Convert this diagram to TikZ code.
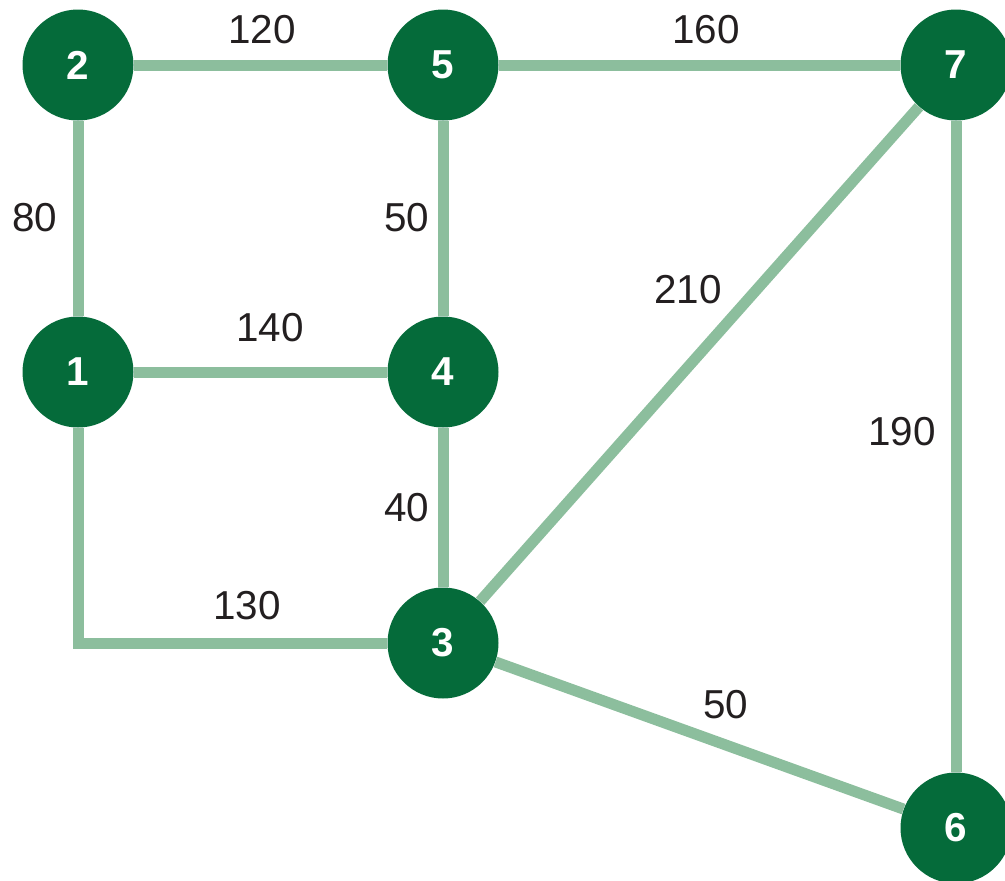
\documentclass[tikz,border=0pt]{standalone}
\usepackage{fontspec}
\setmainfont{Liberation Sans}
\begin{document}
\begin{tikzpicture}[x=0.02cm,y=-0.02cm,
  vert/.style={circle,fill=nodegreen,minimum size=111*0.02cm,inner sep=0pt,text=white,font=\fontsize{23}{25}\selectfont\bfseries},
  edge/.style={draw=edgegreen,line width=11*0.02cm,line join=miter},
  wlabel/.style={text=textdark,font=\fontsize{23}{25}\selectfont,inner sep=0pt}]
\definecolor{nodegreen}{HTML}{056B3A}
\definecolor{edgegreen}{HTML}{8CBE9D}
\definecolor{textdark}{HTML}{231F20}
\useasboundingbox (0,0) rectangle (1005,880);
\clip (0,0) rectangle (1005,880);
\node[vert] (n2) at (78,65) {2};
\node[vert] (n5) at (443,65) {5};
\node[vert] (n7) at (956,65) {7};
\node[vert] (n1) at (78,372) {1};
\node[vert] (n4) at (443,372) {4};
\node[vert] (n3) at (443,643) {3};
\node[vert] (n6) at (956,828) {6};
\path[edge] (n2) -- (n5);
\path[edge] (n5) -- (n7);
\path[edge] (n2) -- (n1);
\path[edge] (n5) -- (n4);
\path[edge] (n1) -- (n4);
\path[edge] (n4) -- (n3);
\path[edge] (n3) -- (n7);
\path[edge] (n7) -- (n6);
\path[edge] (n3) -- (n6);
\path[edge] (n1) |- (n3);
\node[wlabel] (l120) at (262,30) {120};
\node[wlabel] (l160) at (706,30) {160};
\node[wlabel] (l80) at (35,218) {80};
\node[wlabel] (l50a) at (407,218) {50};
\node[wlabel] (l210) at (688,290) {210};
\node[wlabel] (l140) at (270,328) {140};
\node[wlabel] (l190) at (902,432) {190};
\node[wlabel] (l40) at (407,508) {40};
\node[wlabel] (l130) at (247,606) {130};
\node[wlabel] (l50b) at (726,705) {50};
\end{tikzpicture}
\end{document}
